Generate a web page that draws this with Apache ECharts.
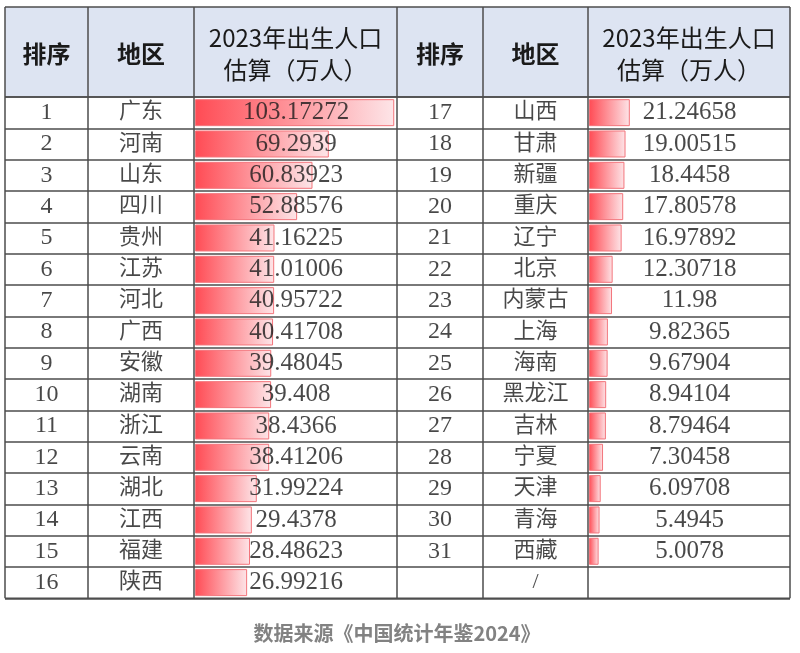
<!DOCTYPE html>
<html>
<head>
<meta charset="utf-8">
<title>2023年出生人口估算</title>
<script src="https://cdn.jsdelivr.net/npm/echarts/dist/echarts.min.js"></script>
<style>
  html, body { margin: 0; padding: 0; background: #fff; }
  #main { width: 800px; height: 653px; }
</style>
</head>
<body>
<div id="main"></div>
<script>
// 数据
var ranksLeft = ['1', '2', '3', '4', '5', '6', '7', '8', '9', '10', '11', '12', '13', '14', '15', '16'];
var regionsLeft = ['广东', '河南', '山东', '四川', '贵州', '江苏', '河北', '广西', '安徽', '湖南', '浙江', '云南', '湖北', '江西', '福建', '陕西'];
var valuesLeft = [103.17272, 69.2939, 60.83923, 52.88576, 41.16225, 41.01006, 40.95722, 40.41708, 39.48045, 39.408, 38.4366, 38.41206, 31.99224, 29.4378, 28.48623, 26.99216];

var ranksRight = ['17', '18', '19', '20', '21', '22', '23', '24', '25', '26', '27', '28', '29', '30', '31', ''];
var regionsRight = ['山西', '甘肃', '新疆', '重庆', '辽宁', '北京', '内蒙古', '上海', '海南', '黑龙江', '吉林', '宁夏', '天津', '青海', '西藏', '/'];
var valuesRight = [21.24658, 19.00515, 18.4458, 17.80578, 16.97892, 12.30718, 11.98, 9.82365, 9.67904, 8.94104, 8.79464, 7.30458, 6.09708, 5.4945, 5.0078];

var headers = ['排序', '地区', '2023年出生人口\n估算（万人）'];
var source = '数据来源《中国统计年鉴2024》';

// 版式
var colX = [5, 88, 194, 397, 483, 588, 790];
var tableTop = 7;
var bodyTop = 97;
var rowH = 31.33;
var rowCount = 16;
var bodyH = rowH * rowCount;
var tableBottom = bodyTop + bodyH;
var barMax = 104.6;
var lineColor = '#4d4d4d';
var cellFont = "'Liberation Serif', 'Noto Sans CJK SC', serif";

var rowIdx = [];
for (var i = 0; i < rowCount; i++) rowIdx.push(String(i));

var grids = [];
var xAxes = [];
var yAxes = [];
var series = [];

// 背景网格：画横线
grids.push({ left: colX[0], width: colX[6] - colX[0], top: bodyTop, height: bodyH });
xAxes.push({ type: 'value', gridIndex: 0, min: 0, max: 1, show: false });
yAxes.push({
    type: 'category', gridIndex: 0, data: rowIdx, inverse: true,
    axisLine: { show: false }, axisTick: { show: false }, axisLabel: { show: false },
    splitLine: { show: true, lineStyle: { color: lineColor, width: 1.5 } }
});

function textSeries(gi, xPos, names, size) {
    return {
        type: 'scatter',
        xAxisIndex: gi,
        yAxisIndex: gi,
        symbolSize: 1,
        silent: true,
        z: 5,
        itemStyle: { color: 'rgba(0,0,0,0)' },
        emphasis: { disabled: true },
        label: {
            show: true,
            position: 'inside',
            formatter: '{b}',
            color: '#1a1a1a',
            fontSize: size,
            fontFamily: cellFont
        },
        data: names.map(function (n, i) {
            return { value: [xPos, i], name: n };
        })
    };
}

function addHalf(h, ranks, regions, values) {
    var c = h * 3;
    var start = grids.length;
    for (var k = 0; k < 3; k++) {
        var gi = grids.length;
        var left = colX[c + k] + (k === 2 ? 1 : 0);
        var width = colX[c + k + 1] - left;
        grids.push({ left: left, width: width, top: bodyTop, height: bodyH });
        xAxes.push({ type: 'value', gridIndex: gi, min: 0, max: k === 2 ? barMax : 1, show: false });
        yAxes.push({ type: 'category', gridIndex: gi, data: rowIdx, inverse: true, show: false });
    }
    series.push(textSeries(start, 0.5, ranks, 24));
    series.push(textSeries(start + 1, 0.5, regions, 22));
    series.push({
        type: 'bar',
        xAxisIndex: start + 2,
        yAxisIndex: start + 2,
        barWidth: 27,
        silent: true,
        z: 2,
        itemStyle: {
            color: new echarts.graphic.LinearGradient(0, 0, 1, 0, [
                { offset: 0, color: '#ff4b54' },
                { offset: 1, color: '#fde5e8' }
            ]),
            borderColor: '#f3757c',
            borderWidth: 1
        },
        data: values
    });
    // 数值居中于列
    series.push(textSeries(start + 2, barMax / 2, values.map(function (v) { return String(v); }), 25));
}

addHalf(0, ranksLeft, regionsLeft, valuesLeft);
addHalf(1, ranksRight, regionsRight, valuesRight);

// 表头与边框
var graphics = [];
graphics.push({
    type: 'rect', z: 0,
    shape: { x: colX[0], y: tableTop, width: colX[6] - colX[0], height: bodyTop - tableTop },
    style: { fill: '#dde4f2' }
});
for (var h = 0; h < 2; h++) {
    for (var k = 0; k < 3; k++) {
        var cx = (colX[h * 3 + k] + colX[h * 3 + k + 1]) / 2;
        graphics.push({
            type: 'text', z: 10,
            x: cx, y: (tableTop + bodyTop) / 2 + 2,
            style: {
                text: headers[k],
                fill: '#1a1a1a',
                font: (k < 2 ? 'bold 24px' : 'normal 24px') + " 'Noto Sans CJK SC', sans-serif",
                lineHeight: 32,
                align: 'center',
                verticalAlign: 'middle'
            }
        });
    }
}
colX.forEach(function (x) {
    graphics.push({
        type: 'line', z: 100,
        shape: { x1: x, y1: tableTop, x2: x, y2: tableBottom },
        style: { stroke: lineColor, lineWidth: 1.5 }
    });
});
[tableTop, bodyTop, tableBottom].forEach(function (y) {
    graphics.push({
        type: 'line', z: 100,
        shape: { x1: colX[0], y1: y, x2: colX[6], y2: y },
        style: { stroke: lineColor, lineWidth: 1.5 }
    });
});
graphics.push({
    type: 'text', z: 10,
    x: 397, y: 633,
    style: {
        text: source,
        fill: '#828282',
        font: "bold 20px 'Noto Sans CJK SC', sans-serif",
        align: 'center',
        verticalAlign: 'middle'
    }
});

var myChart = echarts.init(document.getElementById('main'));

option = {
    backgroundColor: '#ffffff',
    animation: false,
    grid: grids,
    xAxis: xAxes,
    yAxis: yAxes,
    graphic: graphics,
    series: series
};

myChart.setOption(option);
</script>
</body>
</html>
